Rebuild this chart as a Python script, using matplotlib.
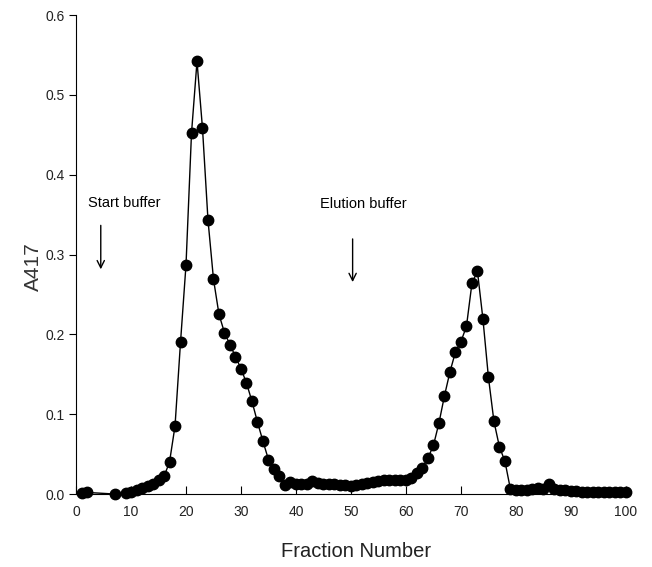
import matplotlib
matplotlib.use('Agg')
import matplotlib.pyplot as plt
import numpy as np

plt.rcParams['font.family'] = ['Liberation Sans', 'DejaVu Sans']

# fraction numbers and absorbance at 417 nm
fractions = [1, 2, 7] + list(range(9, 101))
a417 = [0.001, 0.002, 0.000,
        # 9 - 20
        0.001, 0.003, 0.005, 0.008, 0.010, 0.013, 0.018, 0.022, 0.040, 0.085, 0.190, 0.287,
        # 21 - 30
        0.452, 0.542, 0.458, 0.343, 0.269, 0.225, 0.202, 0.187, 0.172, 0.157,
        # 31 - 40
        0.139, 0.116, 0.090, 0.066, 0.043, 0.031, 0.023, 0.011, 0.015, 0.012,
        # 41 - 50
        0.013, 0.012, 0.016, 0.014, 0.013, 0.012, 0.012, 0.011, 0.011, 0.010,
        # 51 - 60
        0.011, 0.012, 0.014, 0.015, 0.016, 0.017, 0.017, 0.017, 0.017, 0.018,
        # 61 - 70
        0.020, 0.026, 0.033, 0.045, 0.061, 0.089, 0.123, 0.153, 0.178, 0.191,
        # 71 - 80
        0.210, 0.264, 0.279, 0.219, 0.146, 0.091, 0.059, 0.041, 0.006, 0.005,
        # 81 - 90
        0.005, 0.005, 0.006, 0.007, 0.006, 0.012, 0.006, 0.005, 0.005, 0.004,
        # 91 - 100
        0.004, 0.003, 0.002, 0.002, 0.002, 0.002, 0.002, 0.002, 0.002, 0.002]

fig = plt.figure(figsize=(6.52, 5.67), dpi=100)
ax = fig.add_axes([0.1166, 0.1287, 0.8434, 0.8448])

ax.plot(fractions, a417, '-o', color='black', lw=1.0, ms=7.5, clip_on=False)

ax.set_xlim(0, 100)
ax.set_ylim(0, 0.6)
ax.set_xticks(np.arange(0, 101, 10))
ax.set_yticks(np.arange(0, 0.61, 0.1))
ax.yaxis.set_major_formatter(matplotlib.ticker.FormatStrFormatter('%.1f'))
ax.spines['top'].set_visible(False)
ax.spines['right'].set_visible(False)
ax.tick_params(axis='x', direction='in', length=6, labelsize=10, pad=8, labelcolor='#222222')
ax.tick_params(axis='y', direction='out', length=5, labelsize=10, pad=3, labelcolor='#222222')

ax.set_xlabel('Fraction Number', fontsize=14.5, color='#222222')
ax.xaxis.set_label_coords(0.51, -0.1)
ax.set_ylabel('A417', fontsize=15, color='#333333')
ax.yaxis.set_label_coords(-0.06, 0.475)

# buffer annotations
ax.text(2.1, 0.365, 'Start buffer', fontsize=10.5, va='center')
ax.annotate('', xy=(4.5, 0.278), xytext=(4.5, 0.340),
            arrowprops=dict(arrowstyle='->', color='black', lw=1, mutation_scale=13))
ax.text(44.3, 0.363, 'Elution buffer', fontsize=10.5, va='center')
ax.annotate('', xy=(50.3, 0.262), xytext=(50.3, 0.323),
            arrowprops=dict(arrowstyle='->', color='black', lw=1, mutation_scale=13))

fig.savefig('out.png', dpi=100)
